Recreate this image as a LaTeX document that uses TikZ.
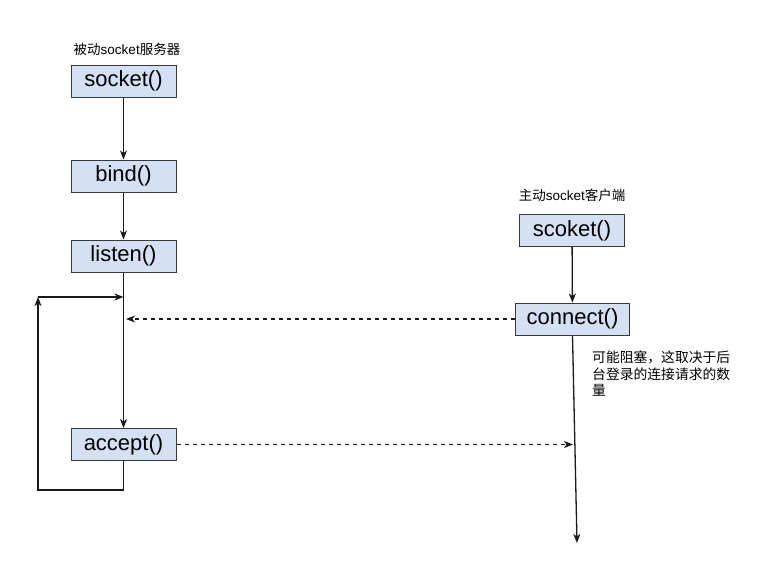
\documentclass[tikz,border=0pt]{standalone}
\usepackage{fontspec}
\setmainfont{Liberation Sans}
\newfontfamily\cjk{Noto Sans CJK SC}
\usetikzlibrary{arrows.meta}
\definecolor{boxfill}{HTML}{D4E1F5}
\definecolor{boxline}{HTML}{36393D}
\definecolor{wire}{HTML}{1A1A1A}
\begin{document}
\begin{tikzpicture}[x=1pt, y=-1pt,
	call/.style={draw=boxline, fill=boxfill, line width=1pt, minimum height=32pt, minimum width=105pt, inner xsep=11.5pt, font=\fontsize{22}{26}\selectfont},
	tag/.style={font=\fontsize{13.5}{16}\selectfont, inner sep=0pt},
	wire/.style={draw=wire, line width=1.3pt},
	>={Stealth[length=9pt, width=7pt, inset=2.5pt]}]
	\useasboundingbox[fill=white] (0,0) rectangle (783,573);
	\node[call] (socket) at (123.5,81) {socket()};
	\node[call] (bind) at (123.5,176) {bind()};
	\node[call] (listen) at (123.5,256) {listen()};
	\node[call] (accept) at (123.5,444.5) {accept()};
	\node[call] (scoket) at (572,230.5) {scoket()};
	\node[call] (connect) at (572.5,319) {connect()};
	\node[tag] (server) at (127,49) {{\cjk 被动}socket{\cjk 服务器}};
	\node[tag] (client) at (572,195) {{\cjk 主动}socket{\cjk 客户端}};
	\node[tag, anchor=north west, align=left, font=\cjk\fontsize{13.8}{16.5}\selectfont] (note) at (592,351) {可能阻塞，这取决于后\\台登录的连接请求的数\\量};
	\coordinate (loop-bot) at (38,490);
	\coordinate (loop-top) at (38,297);
	\coordinate (loop-in) at (123.5,297);
	\coordinate (req) at (126,319);
	\coordinate (reply) at (573,444.5);
	\coordinate (client-end) at (577,543);
	%%%%%%%%%%%%%
	\draw[wire, ->] (socket) -- (bind);
	\draw[wire, ->] (bind) -- (listen);
	\draw[wire, ->] (listen) -- (accept);
	\draw[wire, ->] (accept.south) |- (loop-bot) -- (loop-top);
	\draw[wire, ->] (loop-top) -- (loop-in);
	\draw[wire, ->] (scoket) -- (connect);
	\draw[wire, ->] (connect.south) -- (client-end);
	\draw[wire, ->, dash pattern=on 4pt off 4pt] (connect.west) -- (req);
	\draw[wire, ->, dash pattern=on 4pt off 4pt] (accept.east) -- (reply);
\end{tikzpicture}
\end{document}
